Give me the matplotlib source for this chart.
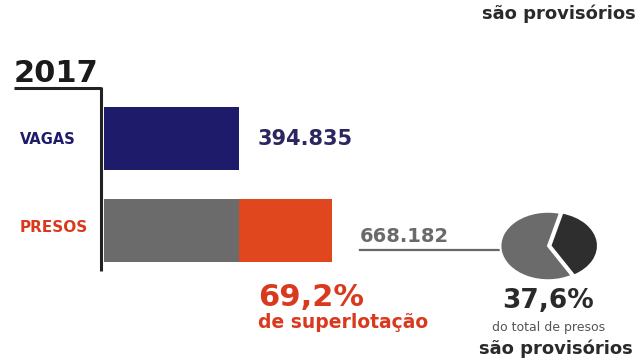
import matplotlib.pyplot as plt

# data
categories = ["VAGAS", "PRESOS"]
vagas = 394835
presos = 668182
provisorios_pct = 37.6
superlot_pct = 69.2
year = "2017"

NAVY = "#1e1b6b"
GREY = "#6b6b6b"
ORANGE = "#e0471f"
RED = "#d93a1e"
DARK = "#2e2e2e"

W, H = 643, 361
fig = plt.figure(figsize=(W / 100, H / 100), dpi=100)

# overlay axes in pixel coordinates for text and rules
ov = fig.add_axes([0, 0, 1, 1])
ov.set_xlim(0, W)
ov.set_ylim(H, 0)
ov.axis("off")


def fmt(n):
    return f"{n:,}".replace(",", ".")


def pct(v):
    return f"{v:.1f}%".replace(".", ",")


# bar axes: x from 104 px to 332 px
bx0, bx1 = 104, 332
ax = fig.add_axes([bx0 / W, 1 - 275 / H, (bx1 - bx0) / W, 185 / H])
ax.set_xlim(0, presos)
ax.set_ylim(1.49, -0.53)
ax.axis("off")
ax.barh(0, vagas, height=0.69, color=NAVY)
ax.barh(1, vagas, height=0.69, color=GREY)
ax.barh(1, presos - vagas, left=vagas, height=0.69, color=ORANGE)

# year header and frame lines
ov.text(14, 82, year, fontsize=22, fontweight="bold", color="#1a1a1a", va="baseline")
ov.plot([14, 101], [88, 88], color="#222222", lw=2.2, solid_capstyle="butt")
ov.plot([101, 101], [87, 271], color="#222222", lw=2.2, solid_capstyle="butt")

ov.text(20, 140, categories[0], fontsize=10.5, fontweight="bold", color=NAVY, va="center")
ov.text(20, 228, categories[1], fontsize=11, fontweight="bold", color=RED, va="center")

ov.text(258, 139, fmt(vagas), fontsize=15, fontweight="bold", color="#2a2760", va="center")
ov.text(360, 237, fmt(presos), fontsize=14, fontweight="bold", color="#6a6a6a", va="center")
ov.plot([360, 505], [250, 250], color="#666666", lw=1.6)

ov.text(258, 298, pct(superlot_pct), fontsize=22, fontweight="bold", color=RED, va="center")
ov.text(258, 323, "de superlotação", fontsize=13.5, fontweight="bold", color=RED, va="center")

# pie (elliptical)
pc_x, pc_y, pw, ph = 548, 246, 100, 72
pax = fig.add_axes([(pc_x - pw / 2) / W, 1 - (pc_y + ph / 2) / H, pw / W, ph / H])
pax.pie([provisorios_pct, 100 - provisorios_pct], colors=[DARK, GREY],
        startangle=-60, explode=[0.05, 0],
        wedgeprops=dict(edgecolor="white", linewidth=1.5))
pax.set_aspect("auto")
pax.set_xlim(-1.05, 1.05)
pax.set_ylim(-1.05, 1.05)

ov.text(548, 301, pct(provisorios_pct), fontsize=19, fontweight="bold", color="#2a2a2a",
        ha="center", va="center")
ov.text(549, 327, "do total de presos", fontsize=9, color="#555555", ha="center", va="center")
ov.text(556, 349, "são provisórios", fontsize=13, fontweight="bold", color="#2a2a2a",
        ha="center", va="center")
ov.text(559, 14, "são provisórios", fontsize=13, fontweight="bold", color="#2a2a2a",
        ha="center", va="center")

fig.savefig("out.png", dpi=100)
